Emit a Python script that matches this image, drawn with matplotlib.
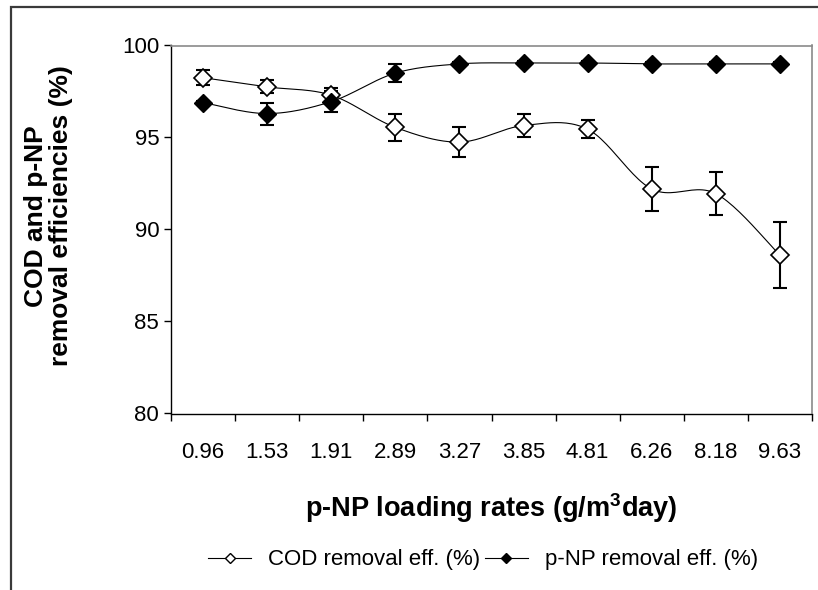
import numpy as np
import matplotlib
matplotlib.use("Agg")
import matplotlib.pyplot as plt
from matplotlib.lines import Line2D
from matplotlib.patches import Rectangle

plt.rcParams['font.family'] = ['Liberation Sans', 'DejaVu Sans']
plt.rcParams['mathtext.fontset'] = 'custom'
plt.rcParams['mathtext.rm'] = 'Liberation Sans'
plt.rcParams['mathtext.bf'] = 'Liberation Sans:bold'

# ---- data ----
loading_rates = ["0.96", "1.53", "1.91", "2.89", "3.27", "3.85", "4.81", "6.26", "8.18", "9.63"]
cod_eff = [98.25, 97.75, 97.3, 95.55, 94.75, 95.65, 95.45, 92.2, 91.95, 88.6]
cod_err = [0.4, 0.35, 0.4, 0.72, 0.8, 0.6, 0.5, 1.17, 1.15, 1.8]
pnp_eff = [96.9, 96.3, 96.95, 98.5, 99.0, 99.05, 99.05, 99.0, 99.0, 99.0]
pnp_err = [0.1, 0.6, 0.57, 0.5, 0.1, 0.1, 0.1, 0.1, 0.1, 0.1]
y_ticks = [80, 85, 90, 95, 100]


def smooth(xs, ys, n=25):
    pts = np.column_stack([xs, ys]).astype(float)
    P = np.vstack([pts[0], pts, pts[-1]])
    out = []
    t = np.linspace(0, 1, n)[:, None]
    for i in range(1, len(P) - 2):
        p0, p1, p2, p3 = P[i - 1], P[i], P[i + 1], P[i + 2]
        c1 = p1 + (p2 - p0) / 6.0
        c2 = p2 - (p3 - p1) / 6.0
        b = (1 - t) ** 3 * p1 + 3 * (1 - t) ** 2 * t * c1 + 3 * (1 - t) * t ** 2 * c2 + t ** 3 * p2
        out.append(b if i == 1 else b[1:])
    return np.vstack(out)


W, H = 818, 590
fig = plt.figure(figsize=(W / 100, H / 100), dpi=100)
fig.patch.set_facecolor('white')

# outer chart border
fig.patches.append(Rectangle((11 / W, -0.5), 2.0, 1.5 - 7 / H, transform=fig.transFigure,
                             fill=False, edgecolor='#3a3a3a', linewidth=1.6))

ax = fig.add_axes([171 / W, 1 - 413.5 / H, (812 - 171) / W, (413.5 - 45.5) / H])
x = np.arange(len(loading_rates))

# smoothed lines
sc = smooth(x, cod_eff)
sp = smooth(x, pnp_eff)
ax.plot(sc[:, 0], sc[:, 1], color='black', lw=0.8, zorder=2)
ax.plot(sp[:, 0], sp[:, 1], color='black', lw=0.8, zorder=2)

# error bars
ax.errorbar(x, cod_eff, yerr=cod_err, fmt='none', ecolor='black', elinewidth=1.5,
            capsize=5, capthick=1.5, zorder=3)
ax.errorbar(x, pnp_eff, yerr=pnp_err, fmt='none', ecolor='black', elinewidth=1.5,
            capsize=5, capthick=1.5, zorder=3)

# markers
ax.plot(x, cod_eff, linestyle='none', marker='D', ms=9, mfc='white', mec='black', mew=1.2, zorder=4)
ax.plot(x, pnp_eff, linestyle='none', marker='D', ms=9, mfc='black', mec='black', mew=1.0, zorder=5)

ax.set_xlim(-0.5, len(loading_rates) - 0.5)
ax.set_ylim(80, 100)
ax.set_yticks(y_ticks)
ax.set_yticklabels([str(v) for v in y_ticks])
ax.set_xticks(x)
ax.set_xticklabels(loading_rates)
ax.set_xticks(np.arange(len(loading_rates) + 1) - 0.5, minor=True)
ax.tick_params(axis='x', which='major', length=0, pad=20.5, labelsize=16)
ax.tick_params(axis='x', which='minor', length=5, width=1, direction='out', color='black')
ax.tick_params(axis='y', which='major', length=5, width=1, direction='out', pad=3.5, labelsize=16)

for s in ['left', 'bottom']:
    ax.spines[s].set_color('black')
    ax.spines[s].set_linewidth(1.0)
for s in ['top', 'right']:
    ax.spines[s].set_color('#8a8a8a')
    ax.spines[s].set_linewidth(1.2)

# axis titles
fig.text(491 / W, 1 - 517 / H, r"p-NP loading rates (g/m$\mathbf{^3}$day)", ha='center', va='baseline',
         fontsize=19.5, fontweight='bold')
fig.text(48.5 / W, 1 - 216 / H, "COD and p-NP\nremoval efficiencies (%)", rotation=90,
         ha='center', va='center', multialignment='center', linespacing=1.05,
         fontsize=19, fontweight='bold')

# legend
h1 = Line2D([], [], color='black', lw=0.8, marker='D', ms=5.5, mfc='white', mec='black', mew=1.0)
h2 = Line2D([], [], color='black', lw=0.8, marker='D', ms=5.5, mfc='black', mec='black', mew=1.0)
fig.legend([h1, h2], ["COD removal eff. (%)", "p-NP removal eff. (%)"], loc='center',
           bbox_to_anchor=(483 / W, 1 - 560 / H), ncol=2, frameon=False, fontsize=16,
           handlelength=1.95, handletextpad=0.75, columnspacing=0.2, borderpad=0)

fig.savefig("out.png", dpi=100)
